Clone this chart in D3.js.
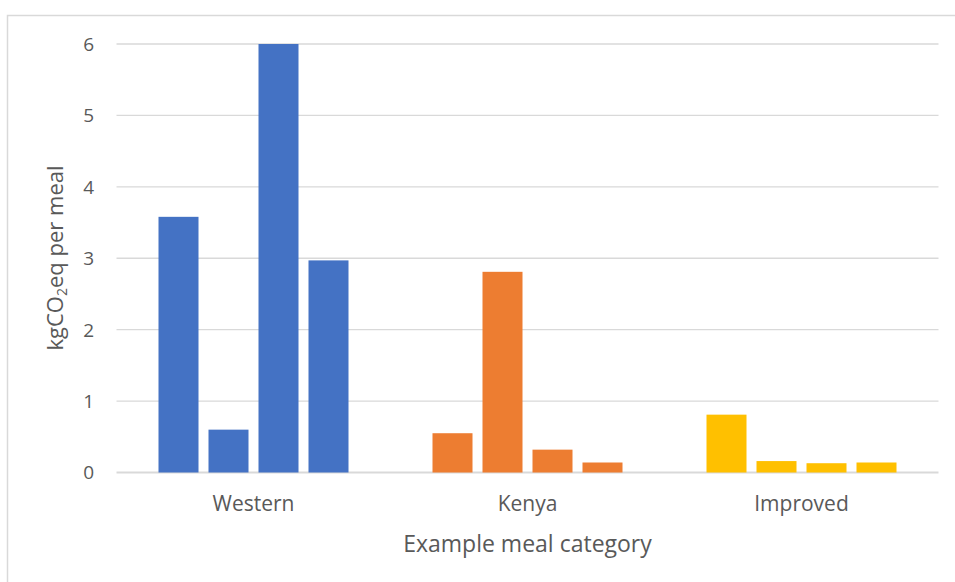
<!DOCTYPE html>
<html>
<head>
  <meta charset="utf-8">
  <title>kgCO2eq per meal</title>
  <script src="https://d3js.org/d3.v7.min.js"></script>
  <style>
    body { margin: 0; background: #fff; }
    text { font-family: "Open Sans", sans-serif; fill: #595959; }
  </style>
</head>
<body>
  <script>
    // data
    const categories = ["Western", "Kenya", "Improved"];
    const western = [3.58, 0.6, 6.0, 2.97];
    const kenya = [0.55, 2.81, 0.32, 0.14];
    const improved = [0.81, 0.16, 0.13, 0.14];
    const yTicks = [0, 1, 2, 3, 4, 5, 6];
    const colors = ["#4472C4", "#ED7D31", "#FFC000"];

    const series = [western, kenya, improved];

    var width = 955,
        height = 582;

    var svg = d3.select("body")
      .append("svg")
      .attr("width", width)
      .attr("height", height);

    // chart frame
    svg.append("rect")
      .attr("x", 7.5)
      .attr("y", 15.5)
      .attr("width", 1000)
      .attr("height", 700)
      .attr("fill", "none")
      .attr("stroke", "#d9d9d9")
      .attr("stroke-width", 1.5);

    var x0 = d3.scaleBand()
      .domain(categories)
      .range([116.5, 938.5]);

    var x1 = d3.scaleBand()
      .domain(d3.range(4))
      .range([0, 190])
      .paddingInner(0.2);

    var y = d3.scaleLinear()
      .domain([0, 6])
      .range([472.5, 44]);

    // gridlines
    svg.append("g")
      .selectAll("line")
      .data(yTicks)
      .enter()
      .append("line")
      .attr("x1", 116.5)
      .attr("x2", 938.5)
      .attr("y1", d => y(d))
      .attr("y2", d => y(d))
      .attr("stroke", "#d9d9d9")
      .attr("stroke-width", d => d === 0 ? 1.8 : 1.3);

    // y tick labels
    svg.append("g")
      .selectAll("text")
      .data(yTicks)
      .enter()
      .append("text")
      .attr("x", 94)
      .attr("y", d => y(d))
      .attr("dy", "0.36em")
      .attr("text-anchor", "end")
      .attr("font-size", 19)
      .text(d => d);

    // bars
    var groups = svg.append("g")
      .selectAll("g")
      .data(categories)
      .enter()
      .append("g")
      .attr("transform", d => "translate(" + (x0(d) + (x0.bandwidth() - 190) / 2) + ",0)");

    groups.selectAll("rect")
      .data((d, i) => series[i].map(v => ({ v: v, c: colors[i] })))
      .enter()
      .append("rect")
      .attr("x", (d, j) => x1(j))
      .attr("width", x1.bandwidth())
      .attr("y", d => y(d.v))
      .attr("height", d => y(0) - y(d.v))
      .attr("fill", d => d.c);

    // category labels
    svg.append("g")
      .selectAll("text")
      .data(categories)
      .enter()
      .append("text")
      .attr("x", d => x0(d) + x0.bandwidth() / 2)
      .attr("y", 511)
      .attr("text-anchor", "middle")
      .attr("font-size", 21)
      .text(d => d);

    // axis titles
    svg.append("text")
      .attr("x", 527.5)
      .attr("y", 552)
      .attr("text-anchor", "middle")
      .attr("font-size", 23)
      .text("Example meal category");

    var yt = svg.append("text")
      .attr("transform", "translate(63,258) rotate(-90)")
      .attr("text-anchor", "middle")
      .attr("font-size", 22);
    yt.append("tspan").text("kgCO");
    yt.append("tspan").attr("font-size", 14).attr("dy", 4).text("2");
    yt.append("tspan").attr("dy", -4).text("eq per meal");
  </script>
</body>
</html>
